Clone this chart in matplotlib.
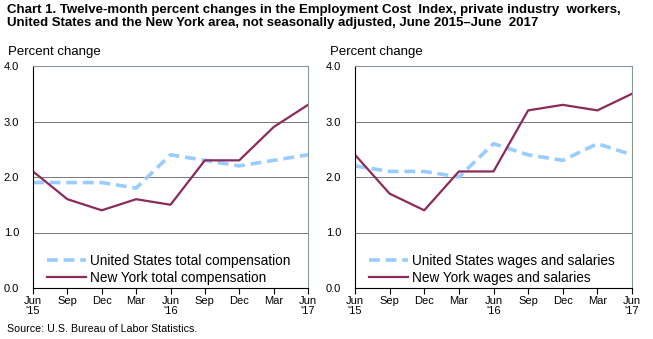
import numpy as np
import matplotlib
matplotlib.use('Agg')
import matplotlib.pyplot as plt

plt.rcParams['font.family'] = ['Liberation Sans', 'DejaVu Sans']

#---------------------------------- DATA -----------------------------------
months = ['Jun\n\'15', 'Sep', 'Dec', 'Mar', 'Jun\n\'16', 'Sep', 'Dec', 'Mar', 'Jun\n\'17']
us_total = [1.9, 1.9, 1.9, 1.8, 2.4, 2.3, 2.2, 2.3, 2.4]
ny_total = [2.1, 1.6, 1.4, 1.6, 1.5, 2.3, 2.3, 2.9, 3.3]
us_wages = [2.2, 2.1, 2.1, 2.0, 2.6, 2.4, 2.3, 2.6, 2.4]
ny_wages = [2.4, 1.7, 1.4, 2.1, 2.1, 3.2, 3.3, 3.2, 3.5]
yticks = [0.0, 1.0, 2.0, 3.0, 4.0]

us_color = '#99CCFF'
ny_color = '#8B2A5B'

fig = plt.figure(figsize=(6.53, 3.39), dpi=100)
fig.text(0.011, 0.988, 'Chart 1. Twelve-month percent changes in the Employment Cost  Index, private industry  workers,\n'
         'United States and the New York area, not seasonally adjusted, June 2015\u2013June  2017',
         fontsize=9.5, fontweight='bold', va='top', ha='left', linespacing=1.05)
fig.text(0.011, 0.015, 'Source: U.S. Bureau of Labor Statistics.', fontsize=7.7, ha='left', va='bottom')

W, H = 653., 339.
panels = [
    (33, 308, us_total, ny_total, 'United States total compensation', 'New York total compensation'),
    (355, 632, us_wages, ny_wages, 'United States wages and salaries', 'New York wages and salaries'),
]
x = np.arange(len(months))
for x0, x1, us, ny, lab_us, lab_ny in panels:
    ax = fig.add_axes([x0/W, 1-288/H, (x1-x0)/W, (288-66)/H])
    ax.plot(x, us, color=us_color, lw=2.6, ls=(0, (3, 1.6)), label=lab_us)
    ax.plot(x, ny, color=ny_color, lw=1.6, label=lab_ny)
    ax.set_xlim(0, len(months)-1)
    ax.set_ylim(0, 4)
    ax.set_yticks(yticks)
    ax.set_yticklabels(['%.1f' % v for v in yticks], fontsize=8)
    ax.set_xticks(x)
    ax.set_xticklabels(months, fontsize=8, linespacing=1.0)
    for v in [1, 2, 3]:
        ax.axhline(v, color='#777777', lw=0.7, zorder=0)
    ax.spines['top'].set_color('#8A9A8A')
    ax.spines['right'].set_color('#8A9A8A')
    ax.spines['left'].set_color('black')
    ax.spines['bottom'].set_color('black')
    for s in ax.spines.values():
        s.set_linewidth(0.8)
    ax.tick_params(axis='y', length=0, pad=10)
    ax.tick_params(axis='x', length=4, direction='out', width=0.8, pad=2)
    ax.legend(loc='lower left', bbox_to_anchor=(0.03, -0.012), frameon=False, fontsize=9.8,
              handlelength=2.9, handletextpad=0.3, labelspacing=0.25, borderaxespad=0.0)
    fig.text((x0-25)/W, 1-52/H, 'Percent change', fontsize=9.5, ha='left', va='center')

fig.savefig('out.png', dpi=100)
